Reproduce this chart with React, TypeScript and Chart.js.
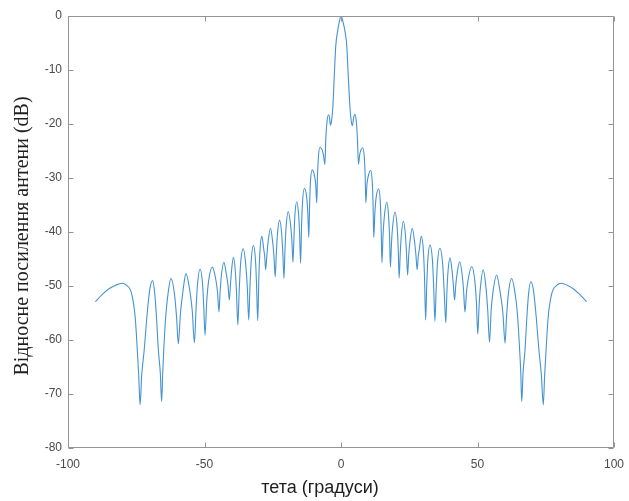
import React, { useEffect, useRef } from "react";
import { Chart, registerables } from "chart.js";

Chart.register(...registerables);

// Angle (degrees) and relative gain (dB), left half of the pattern
const thetaLeft = [
  -90, -87.5, -85.0, -82.7, -80.3, -78.5, -76.7, -75.4, -74.6, -74.1, -73.6,
  -73.0, -72.1, -71.1, -70.1, -69.0, -68.2, -67.6, -66.9, -66.2, -65.7,
  -65.3, -64.9, -64.1, -63.2, -62.3, -61.0, -60.2, -59.6,
  -58.8, -57.8, -56.8, -55.4, -54.5, -53.7,
  -53.1, -52.6, -51.6, -50.7, -50.3, -49.8,
  -49.2, -48.5, -47.1, -45.9, -45.25, -44.7,
  -44.25, -43.8, -42.9, -42.0, -41.4, -40.9,
  -40.5, -40.1, -39.4, -38.7, -38.3, -37.8,
  -37.3, -36.8, -35.8, -34.9, -34.3, -33.8,
  -33.35, -32.9, -32.1, -31.3, -30.9, -30.5,
  -30.1, -29.7, -29.0, -28.3, -27.95, -27.6,
  -27.15, -26.7, -25.8, -25.0, -24.55, -24.1,
  -23.7, -23.3, -22.5, -21.7, -21.3, -20.9,
  -20.5, -20.1, -19.3, -18.45, -18.0, -17.6,
  -17.2, -16.9, -16.2, -15.5, -15.15, -14.8,
  -14.45, -14.1, -13.4, -12.6, -12.15, -11.8,
  -11.5, -11.2, -10.5, -9.7, -9.25, -8.9,
  -8.6, -8.3, -7.7, -6.9, -6.4, -5.9,
  -5.55, -5.1, -4.6, -4.2, -3.9,
  -3.5, -3.0, -2.5, -1.9, -1.3, -0.6,
];
const gainLeft = [
  -52.9, -51.6, -50.5, -49.9, -49.5, -49.9, -51.4, -55.7, -62, -66.5, -72,
  -66.5, -61.9, -55.7, -50.8, -49, -51.5, -55.7, -61.9, -66, -71.4,
  -66, -61.5, -55, -50.8, -48.6, -51.5, -56, -60.7,
  -55, -50.6, -47.7, -50.8, -54.5, -60.5,
  -54.3, -49.9, -46.9, -49.7, -53.5, -59.1,
  -53, -49.1, -46.5, -48.7, -51, -54.8,
  -50.8, -48, -45.6, -47.8, -49.8, -52.6,
  -49.8, -47.2, -44.7, -47.3, -51, -57.2,
  -51, -46, -43.1, -46, -50.5, -56.3,
  -50.2, -45.4, -42.5, -45.4, -50.3, -56.4,
  -48.6, -43.7, -40.8, -43.2, -44.5, -47,
  -44.3, -41.8, -39.3, -42, -44.5, -48.3,
  -44, -40.5, -37.8, -40.5, -44, -48.6,
  -43, -39, -36.2, -38.8, -41.5, -45.6,
  -40.5, -37, -34.4, -37, -40.5, -45.8,
  -39, -34.5, -31.9, -33.5, -36.5, -41,
  -35, -30.8, -28.5, -29.6, -31.2, -34.6,
  -29.5, -26.3, -24.3, -24.8, -25.8, -27.5,
  -22.5, -19.5, -18.3, -18.8, -20.2,
  -19.5, -17, -11.5, -5.4, -3.0, -1.0,
];

// Right half of the pattern
const thetaRight = [
  0, 0.7, 1.5, 2.1, 2.7, 3.3, 3.8, 4.2,
  4.65, 5.1, 5.6, 6.0, 6.4,
  6.8, 7.3, 8.0, 8.55, 8.85, 9.1,
  9.5, 10.0, 10.9, 11.45, 11.75, 12.0,
  12.4, 12.9, 13.8, 14.4, 14.7, 15.0,
  15.4, 15.9, 16.8, 17.45, 17.8, 18.1,
  18.5, 18.95, 19.8, 20.55, 20.95, 21.3,
  21.7, 22.1, 22.85, 23.6, 24.0, 24.4,
  24.8, 25.25, 26.1, 27.0, 27.45, 27.9,
  28.3, 28.7, 29.4, 30.2, 30.6, 31.0,
  31.4, 31.8, 32.6, 33.5, 33.95, 34.4,
  34.85, 35.3, 36.2, 37.25, 37.8, 38.4,
  38.8, 39.2, 39.95, 40.7, 41.15, 41.6,
  42.05, 42.5, 43.45, 44.4, 44.9, 45.4,
  46.0, 46.6, 47.9, 49.0, 49.6, 50.1,
  50.6, 51.1, 52.1, 53.0, 53.75, 54.4,
  55.0, 55.7, 57.0, 58.2, 59.3, 60.1,
  60.6, 61.3, 62.5, 63.6, 64.6, 65.4, 65.85, 66.2,
  66.7, 67.4, 68.1, 68.7, 69.5, 70.5, 71.5, 72.5, 73.4, 74.1,
  74.6, 75.1, 75.9, 77.2, 79.0, 80.8, 83.0, 85.1, 87.5, 90.0,
];
const gainRight = [
  0, -1.0, -3.0, -5.4, -11.5, -17, -19.6, -20.3,
  -18.8, -18.2, -19.5, -22.5, -27.5,
  -25.8, -24.8, -24.4, -26.3, -29.5, -34.6,
  -31.2, -29.6, -28.6, -30.8, -35, -41,
  -36.5, -33.5, -32, -34.5, -39, -45.7,
  -40.5, -37, -34.5, -37.2, -41, -46.5,
  -42, -38.8, -36.3, -39, -43, -48.5,
  -44, -40.6, -38, -40.6, -44, -48,
  -44.3, -41.8, -39.3, -42, -44.3, -47,
  -44.5, -43.2, -40.8, -43.6, -48.5, -56.3,
  -50, -45.3, -42.4, -45.3, -50.2, -56.5,
  -50.8, -46, -43, -46, -51, -56.8,
  -51, -47.3, -44.8, -47.3, -49.8, -52.6,
  -49.8, -47.8, -45.5, -48, -50.8, -54.8,
  -51, -48.7, -46.4, -49, -53, -58.9,
  -53.5, -50.1, -47, -49.8, -54.5, -60.4,
  -54.5, -51, -48, -50.8, -55, -60.6,
  -56, -51.5, -48.6, -50.8, -55, -61.5, -66, -71.4,
  -66, -61.9, -55.7, -51.5, -49.2, -50.8, -55.7, -61.9, -66.5, -72,
  -66.5, -62, -55.7, -51.4, -49.9, -49.5, -49.9, -50.5, -51.6, -52.9,
];

const xTickValues = [-100, -50, 0, 50, 100];
const yTickValues = [0, -10, -20, -30, -40, -50, -60, -70, -80];
const xAxisTitle = "тета (градуси)";
const yAxisTitle = "Відносне посилення антени (dB)";

const matlabBox = {
  id: "matlabBox",
  afterDraw(chart: any) {
    const ctx = chart.ctx;
    const { left, right, top, bottom } = chart.chartArea;
    const xs = chart.scales.x;
    const ys = chart.scales.y;
    ctx.save();
    ctx.strokeStyle = "#949494";
    ctx.lineWidth = 1;
    const L = Math.round(left) + 0.5;
    const R = Math.round(right) - 0.5;
    const T = Math.round(top) + 0.5;
    const B = Math.round(bottom) - 0.5;
    ctx.beginPath();
    ctx.rect(L, T, R - L, B - T);
    ctx.stroke();
    const tl = 5;
    ctx.beginPath();
    xTickValues.forEach((v) => {
      const px = Math.round(xs.getPixelForValue(v)) + 0.5;
      ctx.moveTo(px, B);
      ctx.lineTo(px, B - tl);
      ctx.moveTo(px, T);
      ctx.lineTo(px, T + tl);
    });
    yTickValues.forEach((v) => {
      const py = Math.round(ys.getPixelForValue(v)) + 0.5;
      ctx.moveTo(L, py);
      ctx.lineTo(L + tl, py);
      ctx.moveTo(R, py);
      ctx.lineTo(R - tl, py);
    });
    ctx.stroke();

    ctx.fillStyle = "#1e1e1e";
    ctx.textAlign = "center";
    ctx.textBaseline = "middle";
    ctx.font = '18px "Liberation Sans", Arial, sans-serif';
    ctx.fillText(xAxisTitle, 320, 488);

    ctx.translate(23, 236);
    ctx.rotate(-Math.PI / 2);
    ctx.font = '20px "Liberation Serif", "Times New Roman", serif';
    ctx.fillText(yAxisTitle, 0, 0);
    ctx.restore();
  },
};

export default function App() {
  const ref = useRef<HTMLCanvasElement | null>(null);
  useEffect(() => {
    if (!ref.current) return;
    const points = [
      ...thetaLeft.map((t, i) => ({ x: t, y: gainLeft[i] })),
      ...thetaRight.map((t, i) => ({ x: t, y: gainRight[i] })),
    ];
    const tickFont = { family: '"Liberation Sans", Arial, sans-serif', size: 12 };
    const chart = new Chart(ref.current, {
      type: "line",
      data: {
        datasets: [
          {
            data: points,
            borderColor: "#4593d2",
            borderWidth: 1.1,
            pointRadius: 0,
            fill: false,
            cubicInterpolationMode: "monotone",
          },
        ],
      },
      options: {
        animation: false,
        responsive: false,
        layout: { padding: { left: 0, right: 15, top: 16, bottom: 0 } },
        plugins: { legend: { display: false }, tooltip: { enabled: false } },
        scales: {
          x: {
            type: "linear",
            min: -100,
            max: 100,
            afterBuildTicks: (s: any) => {
              s.ticks = xTickValues.map((v) => ({ value: v }));
            },
            afterFit: (s: any) => {
              s.height = 53;
              s.paddingLeft = 0;
              s.paddingRight = 0;
            },
            grid: { display: false, drawTicks: false },
            border: { display: false },
            ticks: { color: "#4a4a4a", font: tickFont, padding: 9, maxRotation: 0 },
          },
          y: {
            type: "linear",
            min: -80,
            max: 0,
            afterBuildTicks: (s: any) => {
              s.ticks = yTickValues.map((v) => ({ value: v }));
            },
            afterFit: (s: any) => {
              s.width = 68;
              s.paddingTop = 0;
              s.paddingBottom = 0;
            },
            grid: { display: false, drawTicks: false },
            border: { display: false },
            ticks: { color: "#4a4a4a", font: tickFont, padding: 6 },
          },
        },
      },
      plugins: [matlabBox],
    });
    return () => chart.destroy();
  }, []);
  return (
    <div style={{ position: "absolute", left: 0, top: 0, width: 629, height: 501, background: "#fff" }}>
      <canvas ref={ref} width={629} height={501} style={{ display: "block" }} />
    </div>
  );
}
